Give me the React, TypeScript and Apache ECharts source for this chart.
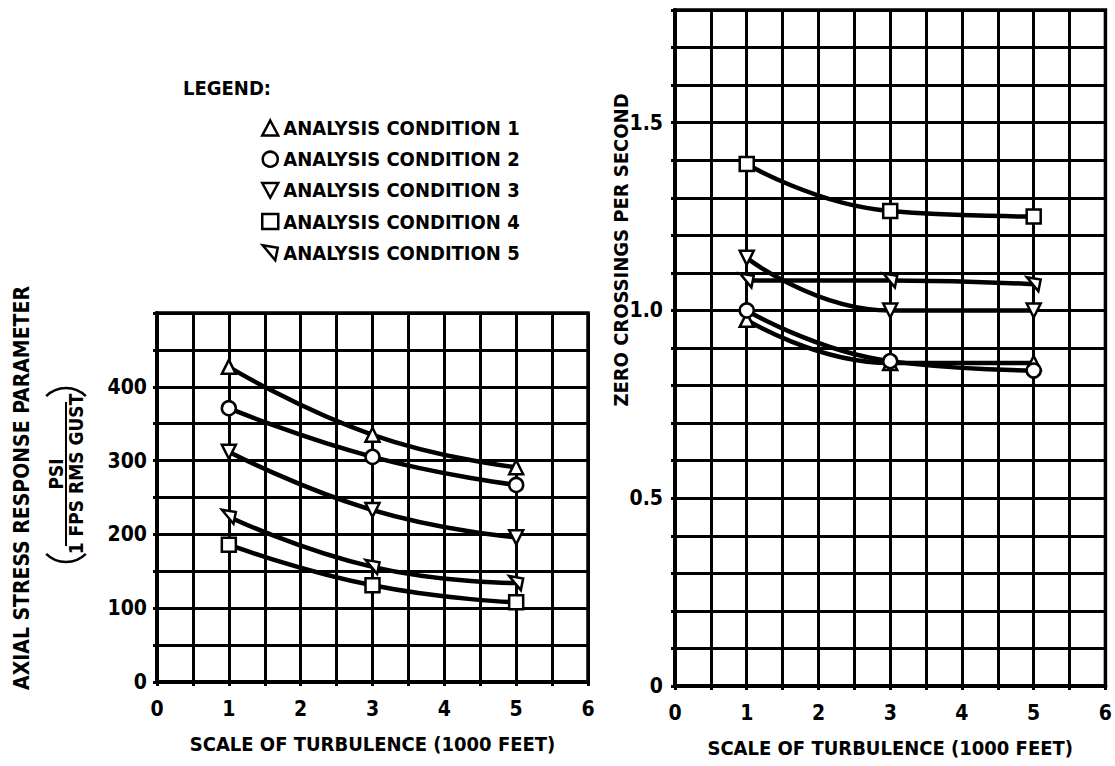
import React, { useEffect, useRef } from "react";
import * as echarts from "echarts";

const conditions = [
  "ANALYSIS CONDITION 1",
  "ANALYSIS CONDITION 2",
  "ANALYSIS CONDITION 3",
  "ANALYSIS CONDITION 4",
  "ANALYSIS CONDITION 5",
];
const scaleX = [1, 3, 5];
const stressC1 = [427, 335, 291];
const stressC2 = [371, 305, 267];
const stressC3 = [312, 233, 196];
const stressC4 = [186, 131, 108];
const stressC5 = [224, 156, 134];
const zeroC1 = [0.975, 0.86, 0.86];
const zeroC2 = [1.0, 0.865, 0.84];
const zeroC3 = [1.14, 1.0, 1.0];
const zeroC4 = [1.39, 1.265, 1.25];
const zeroC5 = [1.08, 1.08, 1.07];

const FONT = "'Liberation Sans Narrow', 'DejaVu Sans Condensed', 'Roboto', sans-serif";
const COND5_PATH = "path://M0,0 L12,2 L10,12 Z";
const symbols = ["triangle", "circle", "triangle", "rect", COND5_PATH];
const rotations = [0, 0, 180, 0, 0];

const stressSets = [stressC1, stressC2, stressC3, stressC4, stressC5];
const zeroSets = [zeroC1, zeroC2, zeroC3, zeroC4, zeroC5];

export default function App() {
  const ref = useRef<HTMLDivElement>(null);
  useEffect(() => {
    if (!ref.current) return;
    const chart = echarts.init(ref.current, null, { renderer: "svg" });
    const axisCommon = {
      type: "value",
      axisLine: { show: true, lineStyle: { color: "#000", width: 4 } },
      axisTick: { show: true, length: 4, lineStyle: { color: "#000", width: 3 } },
      splitLine: { show: true, lineStyle: { color: "#000", width: 3 } },
      axisLabel: { color: "#000", fontFamily: FONT, fontWeight: "bold", fontSize: 21 },
    };
    const xAxisFor = (gridIndex: number) => ({
      ...axisCommon,
      gridIndex,
      min: 0,
      max: 6,
      interval: 0.5,
      name: "SCALE OF TURBULENCE (1000 FEET)",
      nameLocation: "middle",
      nameGap: 52,
      nameTextStyle: { color: "#000", fontFamily: FONT, fontWeight: "bold", fontSize: 20 },
      axisLabel: {
        ...axisCommon.axisLabel,
        margin: 16,
        showMinLabel: true,
        showMaxLabel: true,
        formatter: (v: number) => (Math.abs(v - Math.round(v)) < 1e-6 ? String(Math.round(v)) : ""),
      },
    });
    const series: any[] = [];
    conditions.forEach((name, i) => {
      const common = {
        name,
        type: "line",
        smooth: 0.5,
        symbol: symbols[i],
        symbolRotate: rotations[i],
        symbolSize: 14,
        lineStyle: { color: "#000", width: 4.5 },
        itemStyle: { color: "#fff", borderColor: "#000", borderWidth: 2.5 },
        z: 5,
      };
      series.push({
        ...common,
        xAxisIndex: 0,
        yAxisIndex: 0,
        data: scaleX.map((x, k) => [x, stressSets[i][k]]),
      });
      series.push({
        ...common,
        xAxisIndex: 1,
        yAxisIndex: 1,
        data: scaleX.map((x, k) => [x, zeroSets[i][k]]),
      });
    });
    chart.setOption({
      animation: false,
      backgroundColor: "#fff",
      grid: [
        { left: 157, top: 313, width: 431, height: 369, show: true, borderColor: "#000", borderWidth: 3.5, backgroundColor: "transparent" },
        { left: 675, top: 10, width: 432, height: 676, show: true, borderColor: "#000", borderWidth: 3.5, backgroundColor: "transparent" },
      ],
      xAxis: [xAxisFor(0), xAxisFor(1)],
      yAxis: [
        {
          ...axisCommon,
          gridIndex: 0,
          min: 0,
          max: 500,
          interval: 50,
          axisLabel: {
            ...axisCommon.axisLabel,
            margin: 10,
            formatter: (v: number) => (v % 100 === 0 && v < 500 ? String(v) : ""),
          },
        },
        {
          ...axisCommon,
          gridIndex: 1,
          min: 0,
          max: 1.8,
          interval: 0.1,
          axisLabel: {
            ...axisCommon.axisLabel,
            margin: 12,
            formatter: (v: number) => {
              if (Math.abs(v * 2 - Math.round(v * 2)) > 1e-6 || v > 1.6) return "";
              return v === 0 ? "0" : v.toFixed(1);
            },
          },
        },
      ],
      legend: {
        orient: "vertical",
        left: 256,
        top: 113,
        itemWidth: 16,
        itemHeight: 15,
        itemGap: 11.2,
        selectedMode: false,
        textStyle: { color: "#000", fontFamily: FONT, fontWeight: "bold", fontSize: 20, padding: [0, 0, 0, 0] },
        data: conditions.map((name, i) => ({
          name,
          icon: i === 2 ? "path://M0,0 L12,0 L6,11 Z" : symbols[i],
          itemStyle: { color: "#fff", borderColor: "#000", borderWidth: 2.5 },
        })),
      },
      graphic: [
        {
          type: "text",
          left: 183,
          top: 78,
          style: { text: "LEGEND:", fill: "#000", font: `bold 20px ${FONT}` },
        },
        {
          type: "text",
          x: 22,
          y: 488,
          rotation: Math.PI / 2,
          style: {
            text: "AXIAL STRESS RESPONSE PARAMETER",
            fill: "#000",
            font: `bold 21px ${FONT}`,
            align: "center",
            verticalAlign: "middle",
          },
        },
        {
          type: "group",
          x: 66,
          y: 474,
          rotation: Math.PI / 2,
          children: [
            {
              type: "text",
              x: 0,
              y: -10,
              style: { text: "PSI", fill: "#000", font: `bold 19px ${FONT}`, align: "center", verticalAlign: "middle" },
            },
            {
              type: "line",
              shape: { x1: -72, y1: 0, x2: 72, y2: 0 },
              style: { stroke: "#000", lineWidth: 2 },
            },
            {
              type: "text",
              x: 0,
              y: 10,
              style: { text: "1 FPS RMS GUST", fill: "#000", font: `bold 19px ${FONT}`, align: "center", verticalAlign: "middle" },
            },
            {
              type: "arc",
              shape: { cx: -60, cy: 0, r: 28, startAngle: Math.PI * 0.75, endAngle: Math.PI * 1.25, clockwise: true },
              style: { stroke: "#000", lineWidth: 2.5, fill: "none" },
            },
            {
              type: "arc",
              shape: { cx: 58, cy: 0, r: 28, startAngle: -Math.PI * 0.25, endAngle: Math.PI * 0.25, clockwise: true },
              style: { stroke: "#000", lineWidth: 2.5, fill: "none" },
            },
          ],
        },
        {
          type: "text",
          x: 621,
          y: 250,
          rotation: Math.PI / 2,
          style: {
            text: "ZERO CROSSINGS PER SECOND",
            fill: "#000",
            font: `bold 20px ${FONT}`,
            align: "center",
            verticalAlign: "middle",
          },
        },
      ],
      series,
    });
    return () => chart.dispose();
  }, []);
  return (
    <div
      ref={ref}
      style={{ position: "fixed", left: 0, top: 0, width: 1115, height: 766, background: "#fff" }}
    />
  );
}
